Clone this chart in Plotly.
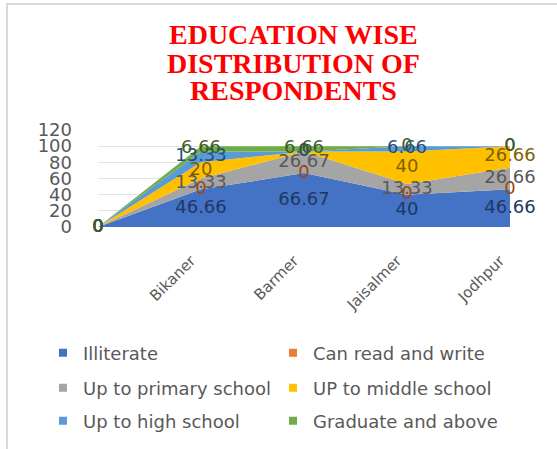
import numpy as np
import plotly.graph_objects as go

categories = ["", "Bikaner", "Barmer", "Jaisalmer", "Jodhpur"]
series_names = ["Illiterate", "Can read and write", "Up to primary school",
                "UP to middle school", "Up to high school", "Graduate and above"]
illiterate = [0, 46.66, 66.67, 40, 46.66]
can_read = [0, 0, 0, 0, 0]
primary = [0, 13.33, 26.67, 13.33, 26.66]
middle = [0, 20, 0, 40, 26.66]
high = [0, 13.33, 0, 6.66, 0]
graduate = [0, 6.66, 6.66, 0, 0]
y_ticks = [0, 20, 40, 60, 80, 100, 120]

series = [illiterate, can_read, primary, middle, high, graduate]
fill_colors = ["#4472C4", "#ED7D31", "#A5A5A5", "#FFC000", "#5B9BD5", "#70AD47"]
label_colors = ["#203864", "#9E480E", "#595959", "#7F6000", "#1F4E79", "#3A5F25"]

# pixel layout helpers
W, H = 557, 449
L, R, T, B = 98, 510, 130, 227
def px_x(p):
    return (p - L) / (R - L)
def px_y(p):
    return (B - p) / (B - T)

x = list(range(len(categories)))
fig = go.Figure()

for name, vals, col in zip(series_names, series, fill_colors):
    fig.add_trace(go.Scatter(x=x, y=vals, name=name, stackgroup="one",
                             mode="lines", line=dict(width=0, color=col),
                             fillcolor=col, showlegend=False, hoverinfo="skip"))

arr = np.array(series, dtype=float)
tops = np.cumsum(arr, axis=0)
mids = tops - arr / 2
for i, (vals, col) in enumerate(zip(series, label_colors)):
    fig.add_trace(go.Scatter(x=x, y=mids[i], mode="text",
                             text=[f"{v:g}" for v in vals],
                             textfont=dict(family="DejaVu Sans", size=18, color=col),
                             textposition="middle center", cliponaxis=False,
                             showlegend=False, hoverinfo="skip"))

legend_ids = ["legend", "legend", "legend2", "legend2", "legend3", "legend3"]
for name, col, lid in zip(series_names, fill_colors, legend_ids):
    fig.add_trace(go.Scatter(x=[None], y=[None], mode="markers", name=name,
                             marker=dict(symbol="square", size=8, color=col),
                             legend=lid, showlegend=True))

leg_common = dict(orientation="h", xanchor="left", yanchor="middle",
                  xref="paper", yref="paper", traceorder="normal",
                  entrywidth=185, entrywidthmode="pixels",
                  font=dict(family="DejaVu Sans", size=18, color="#595959"),
                  bgcolor="rgba(0,0,0,0)", itemclick=False)
fig.update_layout(
    legend=dict(x=px_x(43), y=max(-2, px_y(353)), **leg_common),
    legend2=dict(x=px_x(43), y=max(-2, px_y(388)), **leg_common),
    legend3=dict(x=px_x(43), y=max(-2, px_y(423)), **leg_common),
)

title_lines = ["EDUCATION WISE", "DISTRIBUTION OF", "RESPONDENTS"]
for line, ypx in zip(title_lines, [34, 63, 90]):
    fig.add_annotation(text=f"<b>{line}</b>", xref="paper", yref="paper",
                       x=px_x(293), y=px_y(ypx), showarrow=False,
                       xanchor="center", yanchor="middle",
                       font=dict(family="Liberation Serif", size=28, color="#FF0000"))

fig.add_shape(type="rect", xref="paper", yref="paper",
              x0=px_x(7), x1=px_x(620), y0=px_y(500), y1=px_y(4),
              line=dict(color="#D9D9D9", width=2), fillcolor="rgba(0,0,0,0)",
              layer="below")

fig.update_xaxes(range=[0, 4], tickvals=x, ticktext=categories, tickangle=-45,
                 showgrid=False, zeroline=False, showline=False, ticks="",
                 ticklabelstandoff=21, ticklabelshift=-10,
                 tickfont=dict(family="DejaVu Sans", size=15, color="#595959"))
fig.update_yaxes(range=[0, 120], tickvals=y_ticks, showgrid=True,
                 gridcolor="#E4E4E4", gridwidth=1, zeroline=False, showline=False,
                 ticks="", ticklabelstandoff=25,
                 tickfont=dict(family="DejaVu Sans", size=18, color="#595959"))

fig.update_layout(width=W, height=H,
                  margin=dict(l=L, r=W - R, t=T, b=H - B, autoexpand=False),
                  plot_bgcolor="white", paper_bgcolor="white", showlegend=True)

fig.write_html("out.html", config={"displayModeBar": False},
               post_script="document.body.style.margin='0';")
